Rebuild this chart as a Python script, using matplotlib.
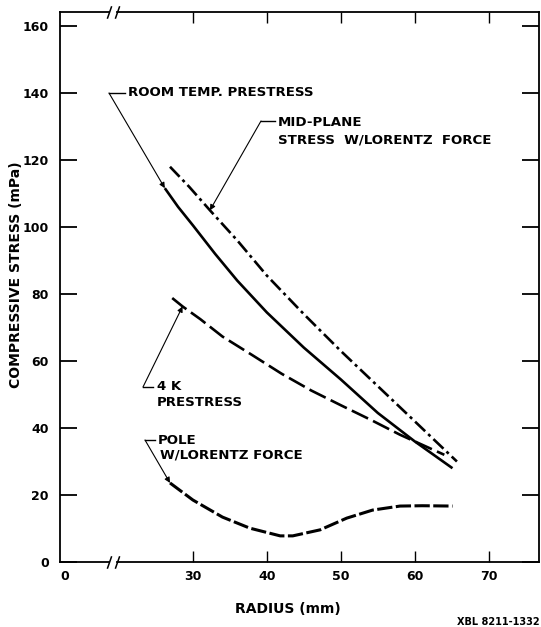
import numpy as np
import matplotlib
matplotlib.use('Agg')
import matplotlib.pyplot as plt
from matplotlib.lines import Line2D

# ---- data ----
room_x = [26.2, 28, 30, 33, 36, 40, 45, 50, 55, 60, 65.1]
room_y = [111.6, 106, 100.5, 92, 84, 74.5, 64, 54.5, 44.5, 36, 28]

mid_x = [26.9, 29.5, 32.3, 36, 40, 45, 50, 55, 60, 65.7]
mid_y = [118, 112, 105, 96, 85.5, 74, 63, 52.5, 42, 30]

k4_x = [27.2, 28.6, 31, 34, 38, 42, 46, 50, 54, 58, 61, 64]
k4_y = [78.8, 76.3, 72.5, 67.3, 61.8, 56.2, 51.2, 46.8, 42.5, 38, 35, 32]

pole_x = [26.9, 30, 34, 37.7, 41.8, 43.5, 47.2, 50.8, 54.3, 58, 61, 65.1]
pole_y = [23.6, 18.5, 13.4, 10.1, 7.8, 7.8, 9.6, 13.1, 15.5, 16.7, 16.8, 16.7]

xticks = [0, 30, 40, 50, 60, 70]
yticks = [0, 20, 40, 60, 80, 100, 120, 140, 160]

plt.rcParams['font.family'] = ['DejaVu Sans']
plt.rcParams['lines.scale_dashes'] = False

W, H = 541, 627
fig = plt.figure(figsize=(W / 100, H / 100), dpi=100)
ax = fig.add_axes([60 / W, 65 / H, 479 / W, 550 / H])

# broken x axis: compress the region below 20
BR, K = 20.0, 0.365
def fwd(x):
    x = np.asarray(x, float)
    return np.where(x >= BR, x, BR - (BR - x) * K)
def inv(u):
    u = np.asarray(u, float)
    return np.where(u >= BR, u, BR - (BR - u) / K)
ax.set_xscale('function', functions=(fwd, inv))
ax.set_xlim(-1.85, 76.8)
ax.set_ylim(0, 164.2)

lw = 1.9
ax.plot(room_x, room_y, color='k', lw=lw, solid_capstyle='butt')
ax.plot(mid_x, mid_y, color='k', lw=lw, dashes=(10, 3, 2.2, 3))
ax.plot(k4_x, k4_y, color='k', lw=lw, dashes=(13, 4))
ax.plot(pole_x, pole_y, color='k', lw=2.2, dashes=(11, 2.5))

# spines
for s in ('top', 'bottom'):
    ax.spines[s].set_visible(False)
for s in ('left', 'right'):
    ax.spines[s].set_linewidth(1.3)

bx, g = (113 - 60) / 479, 0.0075
for yy in (0, 1):
    ax.plot([0, bx - g], [yy, yy], transform=ax.transAxes, color='k', lw=1.3, clip_on=False)
    ax.plot([bx + g, 1], [yy, yy], transform=ax.transAxes, color='k', lw=1.3, clip_on=False)
    ax.plot([bx - g, bx + g], [yy, yy], transform=ax.transAxes, ls='none', color='k',
            marker=[(-0.35, -1), (0.35, 1)], ms=9, mew=1.1, clip_on=False)

ax.set_xticks(xticks)
ax.set_xticklabels([str(v) for v in xticks])
ax.set_yticks(yticks)
ax.set_yticklabels([str(v) for v in yticks])
ax.tick_params(axis='y', direction='in', length=12, width=1.3, left=True, right=True,
               labelright=False, labelsize=9, pad=8)
ax.tick_params(axis='x', direction='in', length=8, width=1.0, top=True, bottom=True,
               labelsize=9, pad=6)
t0 = ax.xaxis.get_major_ticks()[0]
t0.tick1line.set_visible(False)
t0.tick2line.set_visible(False)
for lab in ax.get_xticklabels() + ax.get_yticklabels():
    lab.set_fontweight('bold')

ax.set_xlabel('RADIUS (mm)', fontsize=10, fontweight='bold')
ax.xaxis.set_label_coords((288 - 60) / 479, (562 - 602) / 550)
ax.set_ylabel('COMPRESSIVE STRESS (mPa)', fontsize=10, fontweight='bold')
ax.yaxis.set_label_coords((23 - 60) / 479, (562 - 275) / 550)

def fp(x, y):
    return (x, H - y)

def ftext(x, y, s, size=9.6):
    fig.text(x / W, 1 - y / H, s, ha='left', va='center', fontsize=size, fontweight='bold')

def leader(x0, x1, y, target):
    fig.add_artist(Line2D([x0 / W, x1 / W], [1 - y / H, 1 - y / H], color='k', lw=1.0))
    ax.annotate('', xy=target, xycoords='data', xytext=fp(x0, y), textcoords='figure pixels',
                arrowprops=dict(arrowstyle='-|>', lw=0.8, color='k', shrinkA=0, shrinkB=0,
                                mutation_scale=8))

ftext(128, 93, 'ROOM TEMP. PRESTRESS')
leader(109, 125, 93, (room_x[0], room_y[0]))

ftext(278, 123, 'MID-PLANE')
ftext(278, 140, 'STRESS  W/LORENTZ  FORCE')
leader(261, 275, 121, (mid_x[2], mid_y[2]))

ftext(157, 387, '4 K')
ftext(157, 402, 'PRESTRESS')
leader(143, 153, 387, (k4_x[1], k4_y[1]))

ftext(158, 440, 'POLE')
ftext(160, 455, 'W/LORENTZ FORCE')
leader(145, 155, 440, (pole_x[0], pole_y[0]))

fig.text(540 / W, 1 - 622 / H, 'XBL 8211-1332', ha='right', va='center', fontsize=7, fontweight='bold')

fig.savefig('out.png', dpi=100)
